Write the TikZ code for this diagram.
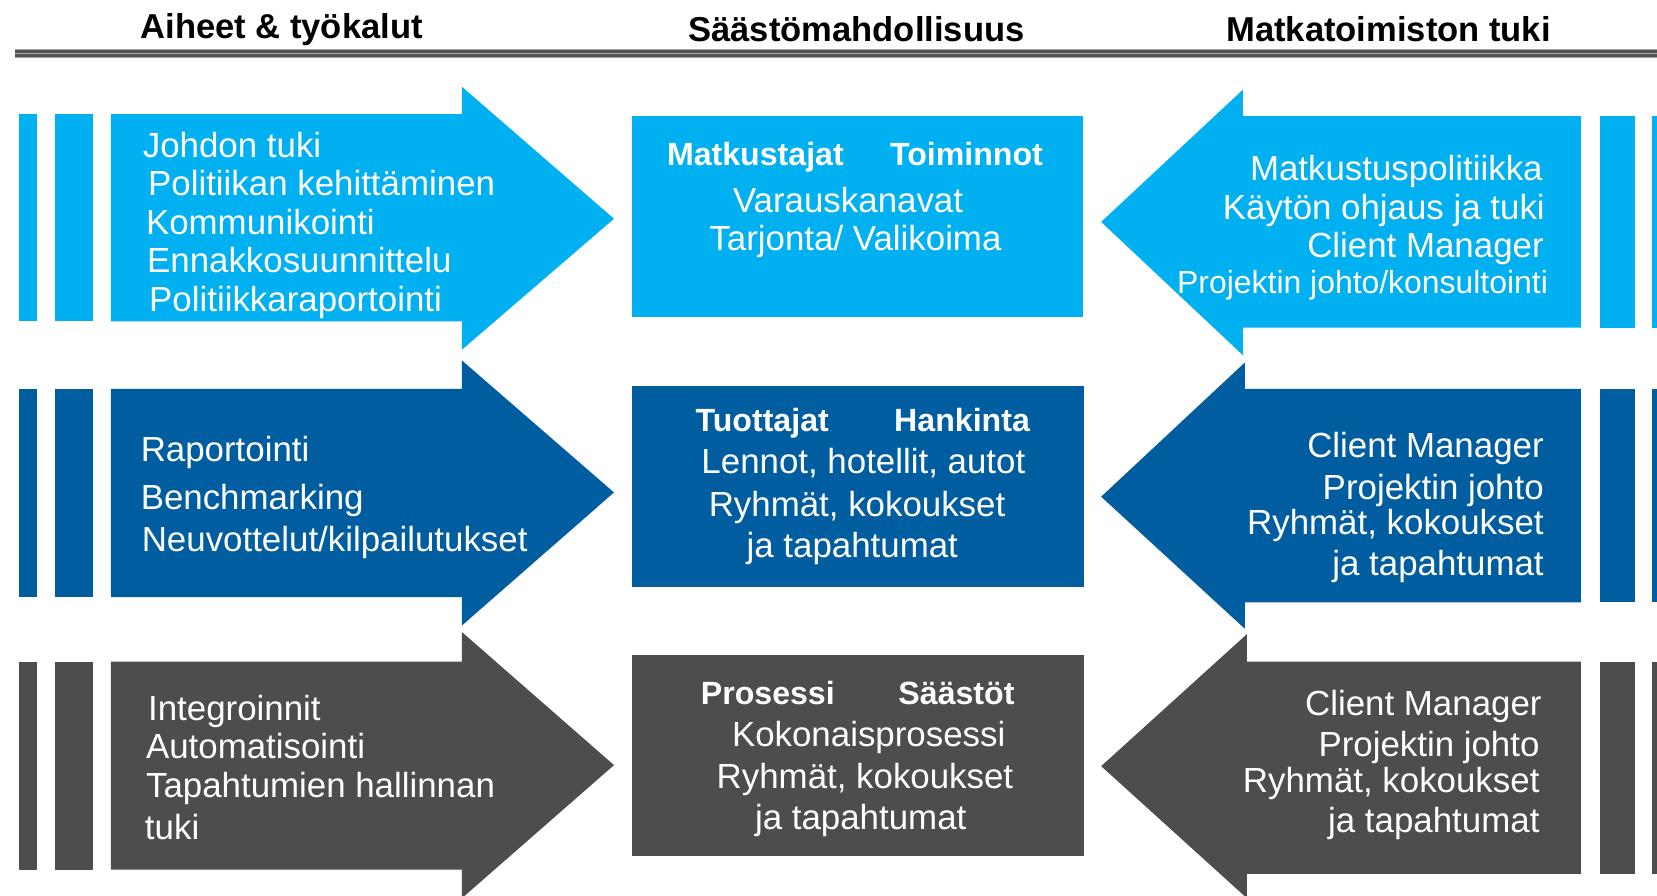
\documentclass[tikz,border=0pt]{standalone}
\usepackage{fontspec}
\setmainfont{Liberation Sans}
\definecolor{lblue}{HTML}{00B0F0}
\definecolor{dblue}{HTML}{005DA0}
\definecolor{dgray}{HTML}{4D4D4D}
\definecolor{hdark}{HTML}{525252}
\definecolor{hlight}{HTML}{A6A6A6}
\tikzset{
  hdr/.style={font=\bfseries\fontsize{32.7}{36}\selectfont, text=black, inner sep=0pt},
  lt/.style={font=\fontsize{33}{36}\selectfont, text=white, inner sep=0pt, anchor=base west},
  rt/.style={font=\fontsize{33}{36}\selectfont, text=white, inner sep=0pt, anchor=base east},
  ct/.style={font=\fontsize{33}{36}\selectfont, text=white, inner sep=0pt, anchor=base},
  bt/.style={font=\bfseries\fontsize{30.4}{34}\selectfont, text=white, inner sep=0pt, anchor=base west},
}
\begin{document}
\begin{tikzpicture}[x=1pt,y=-1pt]
\useasboundingbox[fill=white] (0,0) rectangle (1568,847);
% header rule
\fill[hlight] (14,46.5) rectangle (1568,54.5);
\fill[hdark] (14,47.3) rectangle (1568,49.9);
\fill[hdark] (14,51.4) rectangle (1568,54.2);
\node[hdr] (h1) at (266.5,28) {Aiheet \& työkalut};
\node[hdr] (h2) at (810.5,27.5) {Säästömahdollisuus};
\node[hdr] (h3) at (1314,27.5) {Matkatoimiston tuki};

% ---------- Row 1 ----------
\fill[lblue] (18,108) rectangle (35,304);
\fill[lblue] (52,108) rectangle (88,304);
\fill[lblue] (105,108) -- (437,108) -- (437,82) -- (581,207) -- (437,331) -- (437,304) -- (105,304) -- cycle;
\fill[lblue] (598,110) rectangle (1025,300);
\fill[lblue] (1042,210) -- (1176,85) -- (1176,110) -- (1496,110) -- (1496,310) -- (1176,310) -- (1176,336) -- cycle;
\fill[lblue] (1514,110) rectangle (1547,310);
\fill[lblue] (1563,110) rectangle (1568,310);

\node[lt] (a1) at (135,149) {Johdon tuki};
\node[lt] (a2) at (140,185) {Politiikan kehittäminen};
\node[lt] (a3) at (138,222) {Kommunikointi};
\node[lt] (a4) at (139,258) {Ennakkosuunnittelu};
\node[lt] (a5) at (141,295) {Politiikkaraportointi};

\node[bt] (m1a) at (631,157) {Matkustajat};
\node[bt] (m1b) at (842,157) {Toiminnot};
\node[ct] (m1c) at (802.5,201) {Varauskanavat};
\node[ct] (m1d) at (809.5,237) {Tarjonta/ Valikoima};

\node[rt] (r1a) at (1460,171) {Matkustuspolitiikka};
\node[rt] (r1b) at (1462,208) {Käytön ohjaus ja tuki};
\node[rt] (r1c) at (1461,244) {Client Manager};
\node[rt, font=\fontsize{30.2}{34}\selectfont] (r1d) at (1465,278) {Projektin johto/konsultointi};

% ---------- Row 2 ----------
\fill[dblue] (18,368) rectangle (35,565);
\fill[dblue] (52,368) rectangle (88,565);
\fill[dblue] (105,368) -- (437,368) -- (437,341) -- (581,466) -- (437,592) -- (437,565) -- (105,565) -- cycle;
\fill[dblue] (598,365) rectangle (1026,555);
\fill[dblue] (1042,470) -- (1178,343) -- (1178,368) -- (1496,368) -- (1496,570) -- (1178,570) -- (1178,595) -- cycle;
\fill[dblue] (1514,368) rectangle (1547,570);
\fill[dblue] (1563,368) rectangle (1568,570);

\node[lt] (b1) at (133,437) {Raportointi};
\node[lt] (b2) at (133,482) {Benchmarking};
\node[lt] (b3) at (134,522) {Neuvottelut/kilpailutukset};

\node[bt] (m2a) at (658,408) {Tuottajat};
\node[bt] (m2b) at (846,408) {Hankinta};
\node[ct] (m2c) at (817,448) {Lennot, hotellit, autot};
\node[ct] (m2d) at (811,489) {Ryhmät, kokoukset};
\node[ct] (m2e) at (806.5,528) {ja tapahtumat};

\node[rt] (r2a) at (1461,433) {Client Manager};
\node[rt] (r2b) at (1461,473) {Projektin johto};
\node[rt] (r2c) at (1461,506) {Ryhmät, kokoukset};
\node[rt] (r2d) at (1461,545) {ja tapahtumat};

% ---------- Row 3 ----------
\fill[dgray] (18,626) rectangle (35,823);
\fill[dgray] (52,626) rectangle (88,823);
\fill[dgray] (105,626) -- (437,626) -- (437,598) -- (581,724) -- (437,850) -- (437,823) -- (105,823) -- cycle;
\fill[dgray] (598,620) rectangle (1026,810);
\fill[dgray] (1042,725) -- (1180,600) -- (1180,626) -- (1496,626) -- (1496,827) -- (1180,827) -- (1180,850) -- cycle;
\fill[dgray] (1514,626) rectangle (1547,827);
\fill[dgray] (1563,626) rectangle (1568,827);

\node[lt] (c1) at (140,682) {Integroinnit};
\node[lt] (c2) at (138,718) {Automatisointi};
\node[lt] (c3) at (138,755) {Tapahtumien hallinnan};
\node[lt] (c4) at (137,794) {tuki};

\node[bt] (m3a) at (663,667) {Prosessi};
\node[bt] (m3b) at (850,667) {Säästöt};
\node[ct] (m3c) at (822,706) {Kokonaisprosessi};
\node[ct] (m3d) at (818.5,746) {Ryhmät, kokoukset};
\node[ct] (m3e) at (814.5,785) {ja tapahtumat};

\node[rt] (r3a) at (1459,677) {Client Manager};
\node[rt] (r3b) at (1457,716) {Projektin johto};
\node[rt] (r3c) at (1457,750) {Ryhmät, kokoukset};
\node[rt] (r3d) at (1457,788) {ja tapahtumat};
\end{tikzpicture}
\end{document}
